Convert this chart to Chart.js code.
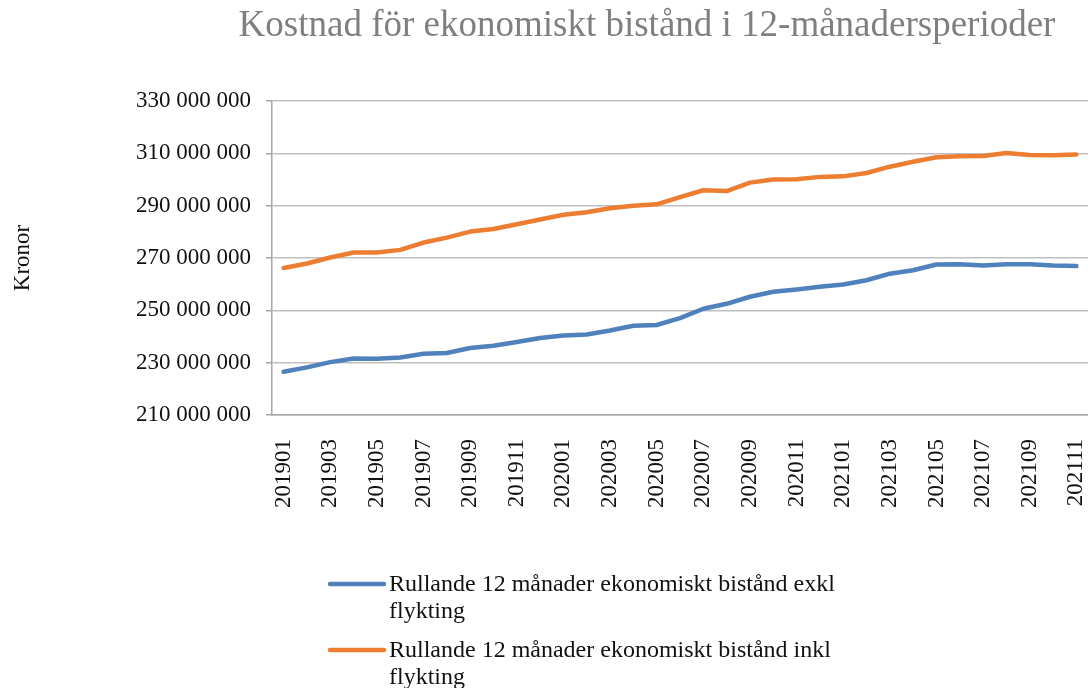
<!DOCTYPE html>
<html lang="sv">
<head>
<meta charset="utf-8">
<title>Kostnad för ekonomiskt bistånd</title>
<script src="https://cdn.jsdelivr.net/npm/chart.js@4.4.1/dist/chart.umd.min.js"></script>
<style>
  html, body { margin: 0; padding: 0; background: #fff; }
  #ram { width: 1088px; height: 688px; position: relative; }
</style>
</head>
<body>
<div id="ram"><canvas id="graf"></canvas></div>
<script>
// ── Data ────────────────────────────────────────────
var perioder = [
  '201901','201902','201903','201904','201905','201906','201907','201908','201909','201910','201911','201912',
  '202001','202002','202003','202004','202005','202006','202007','202008','202009','202010','202011','202012',
  '202101','202102','202103','202104','202105','202106','202107','202108','202109','202110','202111'
];
var exklFlykting = [
  226500000, 228200000, 230200000, 231600000, 231500000, 232000000, 233400000, 233700000, 235600000, 236500000,
  237900000, 239400000, 240400000, 240800000, 242300000, 244100000, 244400000, 247000000, 250600000, 252500000,
  255200000, 257100000, 258000000, 259000000, 259900000, 261500000, 264000000, 265300000, 267500000, 267600000,
  267100000, 267600000, 267600000, 267100000, 266900000
];
var inklFlykting = [
  266200000, 267900000, 270200000, 272100000, 272100000, 273100000, 275900000, 277800000, 280100000, 281100000,
  282900000, 284700000, 286500000, 287500000, 289000000, 290000000, 290500000, 293300000, 295900000, 295600000,
  298800000, 300000000, 300100000, 301000000, 301200000, 302500000, 304900000, 306800000, 308500000, 308900000,
  309000000, 310100000, 309400000, 309300000, 309600000
];
var yMin = 210000000;
var yMax = 330000000;
var ySteg = 20000000;

// ── Stil ────────────────────────────────────────────
var BLA     = '#4f81bd';
var ORANGE  = '#ed7d31';
var GRA_TXT = '#7f7f7f';
var SVART   = '#111111';
var SERIF   = "'Liberation Serif', 'Times New Roman', serif";

Chart.defaults.font.family = SERIF;
Chart.defaults.font.size = 23;
Chart.defaults.color = SVART;

function tusental(v) {
  return String(v).replace(/\B(?=(\d{3})+(?!\d))/g, ' ');
}

// Rubrik ritas fritt ovanför diagrammet
var rubrikPlugin = {
  id: 'rubrik',
  afterDraw: function(chart, args, opts) {
    var ctx = chart.ctx;
    ctx.save();
    ctx.font = opts.font;
    ctx.fillStyle = opts.color;
    ctx.textAlign = 'center';
    ctx.textBaseline = 'middle';
    ctx.fillText(opts.text, opts.x, opts.y);
    ctx.restore();
  }
};

// Förklaring under diagrammet, med radbrytning
function radbryt(ctx, text, maxBredd) {
  var ord = text.split(' ');
  var rader = [];
  var rad = '';
  for (var i = 0; i < ord.length; i++) {
    var prov = rad ? rad + ' ' + ord[i] : ord[i];
    if (ctx.measureText(prov).width > maxBredd && rad) {
      rader.push(rad);
      rad = ord[i];
    } else {
      rad = prov;
    }
  }
  if (rad) rader.push(rad);
  return rader;
}

var forklaringPlugin = {
  id: 'forklaring',
  afterDraw: function(chart, args, opts) {
    var ctx = chart.ctx;
    var y = opts.y;
    ctx.save();
    ctx.font = opts.font;
    ctx.textBaseline = 'middle';
    chart.data.datasets.forEach(function(ds) {
      ctx.strokeStyle = ds.borderColor;
      ctx.lineWidth = ds.borderWidth;
      ctx.lineCap = 'round';
      ctx.beginPath();
      ctx.moveTo(opts.x, y);
      ctx.lineTo(opts.x + opts.linje, y);
      ctx.stroke();
      ctx.fillStyle = opts.color;
      var rader = radbryt(ctx, ds.label, opts.maxBredd);
      for (var i = 0; i < rader.length; i++) {
        ctx.fillText(rader[i], opts.x + opts.linje + opts.mellanrum, y + 1 + i * opts.radhojd);
      }
      y += opts.steg;
    });
    ctx.restore();
  }
};

new Chart(document.getElementById('graf'), {
  type: 'line',
  data: {
    labels: perioder,
    datasets: [
      {
        label: 'Rullande 12 månader ekonomiskt bistånd exkl flykting',
        data: exklFlykting,
        borderColor: BLA,
        backgroundColor: BLA,
        borderWidth: 4.5,
        pointRadius: 0,
        tension: 0,
        borderJoinStyle: 'round',
        borderCapStyle: 'round'
      },
      {
        label: 'Rullande 12 månader ekonomiskt bistånd inkl flykting',
        data: inklFlykting,
        borderColor: ORANGE,
        backgroundColor: ORANGE,
        borderWidth: 4.5,
        pointRadius: 0,
        tension: 0,
        borderJoinStyle: 'round',
        borderCapStyle: 'round'
      }
    ]
  },
  options: {
    responsive: true,
    maintainAspectRatio: false,
    animation: false,
    layout: { padding: { top: 101, right: 0, bottom: 153, left: 0 } },
    plugins: {
      legend: { display: false },
      tooltip: { enabled: false },
      rubrik: {
        text: 'Kostnad för ekonomiskt bistånd i 12-månadersperioder',
        font: '37px ' + SERIF,
        color: GRA_TXT,
        x: 647,
        y: 26
      },
      forklaring: {
        font: '24px ' + SERIF,
        color: SVART,
        x: 330,
        y: 584,
        linje: 54,
        mellanrum: 5,
        maxBredd: 460,
        radhojd: 27,
        steg: 66
      }
    },
    scales: {
      x: {
        offset: true,
        grid: { display: false },
        border: { display: true, color: '#a6a6a6', width: 1.5 },
        ticks: {
          autoSkip: false,
          maxRotation: 90,
          minRotation: 90,
          padding: 16,
          color: SVART,
          callback: function(v, i) { return i % 2 === 0 ? this.getLabelForValue(v) : ''; }
        },
        afterFit: function(scale) {
          scale.height = 120;
          scale.paddingLeft = 0;
          scale.paddingRight = 0;
        }
      },
      y: {
        min: yMin,
        max: yMax,
        grid: { color: '#bfbfbf', lineWidth: 1.5, tickLength: 6, tickColor: '#a6a6a6' },
        border: { display: true, color: '#a6a6a6', width: 1.5 },
        ticks: {
          stepSize: ySteg,
          padding: 15,
          color: SVART,
          callback: function(v) { return tusental(v); }
        },
        title: {
          display: true,
          text: 'Kronor',
          color: SVART,
          font: { size: 23 },
          padding: { top: 9, bottom: 0 }
        },
        afterFit: function(scale) { scale.width = 272; }
      }
    }
  },
  plugins: [rubrikPlugin, forklaringPlugin]
});
</script>
</body>
</html>
